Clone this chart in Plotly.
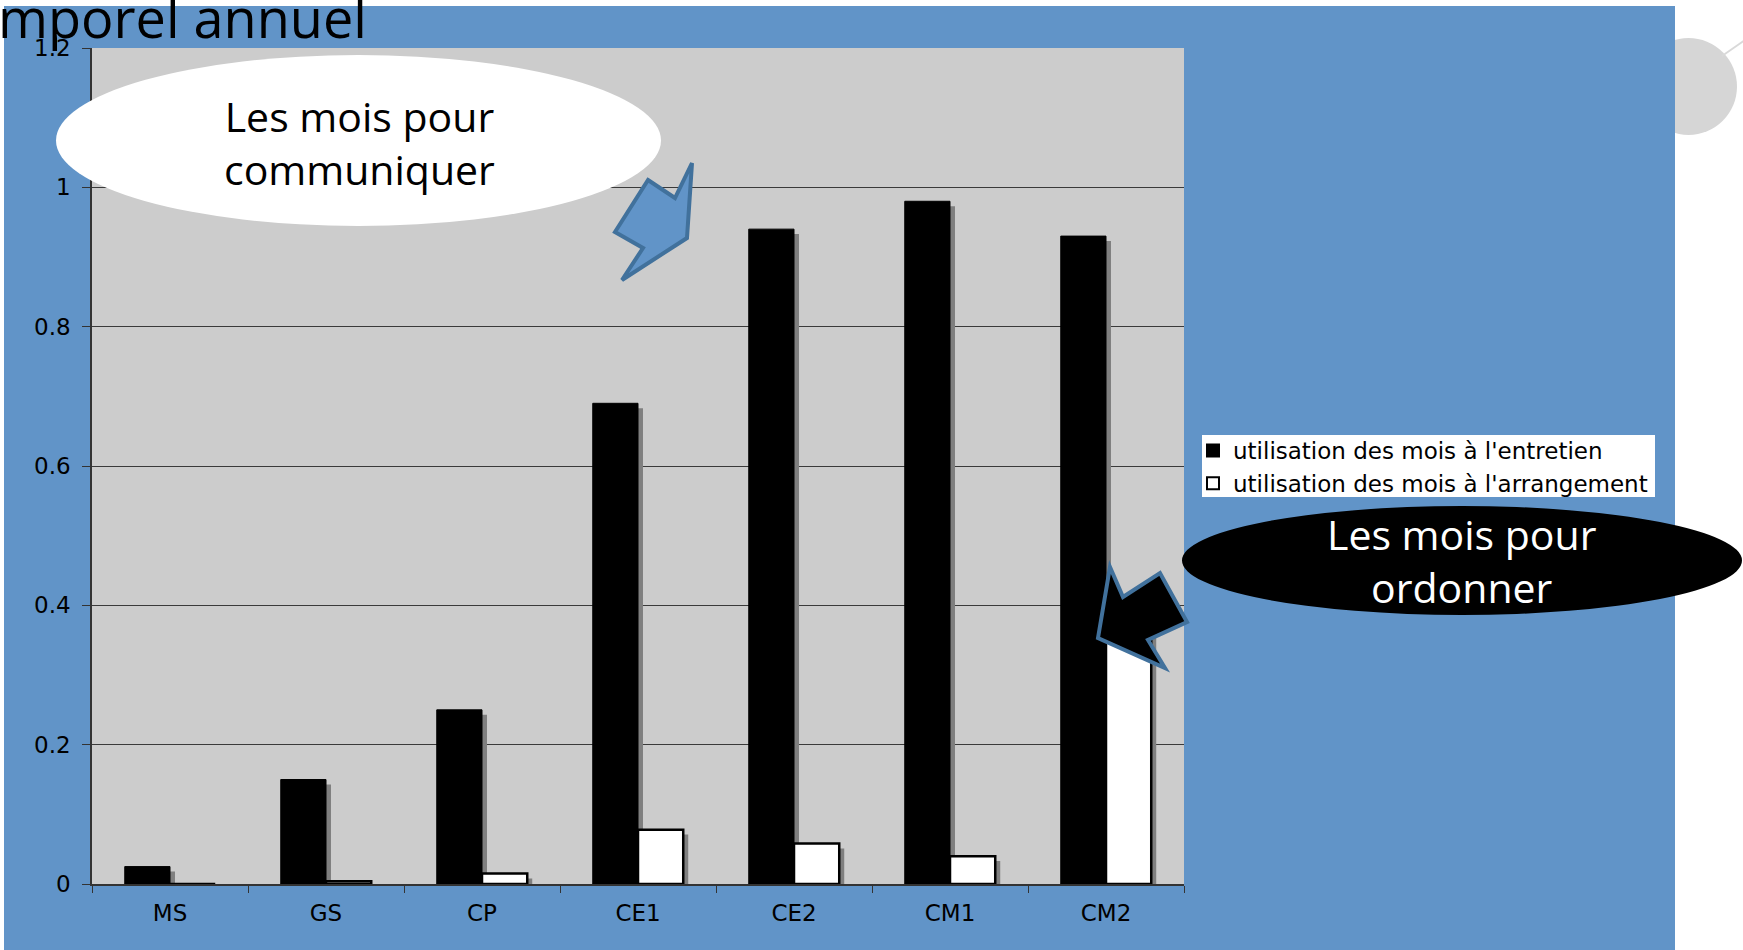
import plotly.graph_objects as go

# ---- data ----
categories = ["MS", "GS", "CP", "CE1", "CE2", "CM1", "CM2"]
entretien = [0.025, 0.15, 0.25, 0.69, 0.94, 0.98, 0.93]
arrangement = [0.0, 0.004, 0.015, 0.078, 0.058, 0.04, 0.39]
series_names = ["utilisation des mois à l'entretien", "utilisation des mois à l'arrangement"]
y_ticks = [0, 0.2, 0.4, 0.6, 0.8, 1, 1.2]
y_tick_text = ["0", "0.2", "0.4", "0.6", "0.8", "1", "1.2"]
title_text = "mporel annuel"
callout_1 = "Les mois pour<br>communiquer"
callout_2 = "Les mois pour<br>ordonner"

# ---- layout geometry (pixels) ----
W_PX, H_PX = 1743, 950
L, R, T, B = 92, 1184, 48, 884
PW, PH = R - L, B - T


def px(x):
    return (x - L) / PW


def py(y):
    return (B - y) / PH


BAR_W = 0.29
SH_DX = 0.032
SH_DY = 0.007
shadow = "#7f7f7f"

fig = go.Figure()

# shadows
fig.add_trace(go.Bar(x=categories, y=[max(v - SH_DY, 0) for v in entretien],
                     width=BAR_W, offset=-BAR_W + SH_DX,
                     marker=dict(color=shadow, line=dict(width=0)),
                     showlegend=False, hoverinfo="skip"))
fig.add_trace(go.Bar(x=categories, y=[max(v - SH_DY, 0) for v in arrangement],
                     width=BAR_W, offset=SH_DX,
                     marker=dict(color=shadow, line=dict(width=0)),
                     showlegend=False, hoverinfo="skip"))
# main bars
fig.add_trace(go.Bar(x=categories, y=entretien, name=series_names[0],
                     width=BAR_W, offset=-BAR_W,
                     marker=dict(color="black", line=dict(color="black", width=1))))
fig.add_trace(go.Bar(x=categories, y=arrangement, name=series_names[1],
                     width=BAR_W, offset=0,
                     marker=dict(color="white", line=dict(color="black", width=2.5))))

shapes = []
# decorative grey circle outside the blue panel
shapes.append(dict(type="circle", xref="paper", yref="paper", layer="below",
                   x0=px(1640), x1=px(1737), y0=py(135), y1=py(38),
                   fillcolor="#d6d6d6", line=dict(width=0)))
shapes.append(dict(type="line", xref="paper", yref="paper", layer="below",
                   x0=px(1722), y0=py(56), x1=px(1745), y1=py(40),
                   line=dict(color="#d9d9d9", width=2)))
# blue panel
shapes.append(dict(type="rect", xref="paper", yref="paper", layer="below",
                   x0=px(4), x1=px(1675), y0=py(950), y1=py(6),
                   fillcolor="#6194c8", line=dict(width=0)))
# grey plot area
shapes.append(dict(type="rect", xref="paper", yref="paper", layer="below",
                   x0=0, x1=1, y0=0, y1=1,
                   fillcolor="#cccccc", line=dict(width=0)))
# legend box
shapes.append(dict(type="rect", xref="paper", yref="paper", layer="below",
                   x0=px(1202), x1=px(1655), y0=py(497), y1=py(435),
                   fillcolor="white", line=dict(width=0)))

# white callout ellipse
shapes.append(dict(type="circle", xref="paper", yref="paper",
                   x0=px(56), x1=px(661), y0=py(226), y1=py(55),
                   fillcolor="white", line=dict(width=0)))


def path(points):
    return "M " + " L ".join(f"{px(x):.5f},{py(y):.5f}" for x, y in points) + " Z"


# blue arrow
blue_arrow = [(648, 180), (675, 198), (692, 163), (687, 238), (622, 280), (643, 248), (615, 232)]
shapes.append(dict(type="path", xref="paper", yref="paper", path=path(blue_arrow),
                   fillcolor="#6194c8", line=dict(color="#41719c", width=4)))
# black callout ellipse
shapes.append(dict(type="circle", xref="paper", yref="paper",
                   x0=px(1182), x1=px(1742), y0=py(615), y1=py(506),
                   fillcolor="black", line=dict(width=0)))
black_arrow = [(1110, 567), (1123, 597), (1160, 573), (1187, 622), (1148, 640), (1165, 668), (1098, 638)]
shapes.append(dict(type="path", xref="paper", yref="paper", path=path(black_arrow),
                   fillcolor="black", line=dict(color="#41719c", width=4)))

annotations = [
    dict(text=title_text, xref="paper", yref="paper", x=px(369), y=py(17),
         xanchor="right", yanchor="middle", showarrow=False,
         font=dict(family="Open Sans", size=54, color="black")),
    dict(text=callout_1, xref="paper", yref="paper", x=px(359), y=py(142),
         xanchor="center", yanchor="middle", showarrow=False,
         font=dict(family="Open Sans", size=41, color="black")),
    dict(text=callout_2, xref="paper", yref="paper", x=px(1462), y=py(560),
         xanchor="center", yanchor="middle", showarrow=False,
         font=dict(family="Open Sans", size=41, color="white")),
]

axis_font = dict(family="DejaVu Sans", size=23, color="black")

fig.update_layout(
    width=W_PX, height=H_PX,
    margin=dict(l=L, r=W_PX - R, t=T, b=H_PX - B, pad=0),
    paper_bgcolor="white",
    plot_bgcolor="rgba(0,0,0,0)",
    barmode="overlay",
    shapes=shapes,
    annotations=annotations,
    showlegend=True,
    legend=dict(x=px(1193), y=py(429), xanchor="left", yanchor="top",
                bgcolor="rgba(0,0,0,0)", borderwidth=0,
                font=dict(family="DejaVu Sans", size=23, color="black"),
                traceorder="normal", itemsizing="constant", tracegroupgap=0),
    xaxis=dict(type="category", categoryorder="array", categoryarray=categories,
               showgrid=False, zeroline=False, showline=True,
               linecolor="#333333", linewidth=1.5,
               ticks="outside", tickson="boundaries", ticklen=7, tickcolor="#333333",
               tickfont=axis_font, ticklabelstandoff=8),
    yaxis=dict(range=[0, 1.2], tickvals=y_ticks, ticktext=y_tick_text,
               showgrid=True, gridcolor="#3a3a3a", gridwidth=1,
               zeroline=False, showline=True, linecolor="#333333", linewidth=1.5,
               ticks="outside", ticklen=8, tickcolor="#333333",
               tickfont=axis_font, ticklabelstandoff=7),
)

fig.write_html("out.html", config={"displayModeBar": False},
               post_script="document.body.style.margin='0px';")
